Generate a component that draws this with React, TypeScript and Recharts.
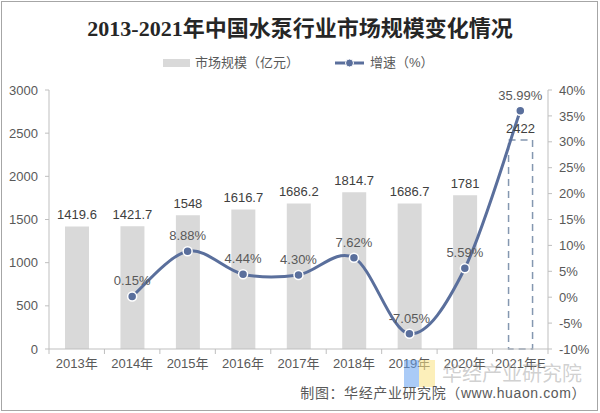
import React from 'react';
import { ComposedChart, Bar, Line, XAxis, YAxis, Cell, LabelList } from 'recharts';

const years = ['2013年', '2014年', '2015年', '2016年', '2017年', '2018年', '2019年', '2020年', '2021年E'];
const marketSize = [1419.6, 1421.7, 1548, 1616.7, 1686.2, 1814.7, 1686.7, 1781, 2422];
const growth: (number | null)[] = [null, 0.15, 8.88, 4.44, 4.3, 7.62, -7.05, 5.59, 35.99];
const leftTicks = [0, 500, 1000, 1500, 2000, 2500, 3000];
const rightTicks = [-10, -5, 0, 5, 10, 15, 20, 25, 30, 35, 40];

const data = years.map((y, i) => ({ year: y, size: marketSize[i], growth: growth[i] }));

const LINE_COLOR = '#5A6F9C';
const AXIS_COLOR = '#BFBFBF';
const TEXT_COLOR = '#595959';
const FONT = '"Liberation Sans", Arial, "Noto Sans CJK SC", sans-serif';

// Excel-like smooth curve (Catmull-Rom as cubic Bezier)
function smoothCurve(context: any) {
  let pts: [number, number][] = [];
  return {
    areaStart() {},
    areaEnd() {},
    lineStart() {
      pts = [];
    },
    lineEnd() {
      const n = pts.length;
      if (n === 0) return;
      context.moveTo(pts[0][0], pts[0][1]);
      if (n === 1) {
        context.lineTo(pts[0][0], pts[0][1]);
        return;
      }
      const t = 1 / 6;
      for (let i = 0; i < n - 1; i++) {
        const p0 = pts[i - 1] || pts[i];
        const p1 = pts[i];
        const p2 = pts[i + 1];
        const p3 = pts[i + 2] || p2;
        context.bezierCurveTo(
          p1[0] + (p2[0] - p0[0]) * t,
          p1[1] + (p2[1] - p0[1]) * t,
          p2[0] - (p3[0] - p1[0]) * t,
          p2[1] - (p3[1] - p1[1]) * t,
          p2[0],
          p2[1]
        );
      }
    },
    point(x: number, y: number) {
      pts.push([+x, +y]);
    },
  };
}

const XTick = (props: any) => {
  const { x, y, payload, index, width, visibleTicksCount } = props;
  const half = payload && payload.offset ? payload.offset : width / (visibleTicksCount || 9) / 2;
  return (
    <g>
      <line x1={x - half} x2={x - half} y1={y} y2={y + 5} stroke={AXIS_COLOR} strokeWidth={1} />
      {index === (visibleTicksCount || 9) - 1 && (
        <line x1={x + half} x2={x + half} y1={y} y2={y + 5} stroke={AXIS_COLOR} strokeWidth={1} />
      )}
      <text x={x} y={y + 10} dy="0.71em" textAnchor="middle" fill={TEXT_COLOR} fontSize={13} fontFamily={FONT}>
        {payload.value}
      </text>
    </g>
  );
};

const growthFormatter = (v: any) => (v === null || v === undefined ? '' : `${Number(v).toFixed(2)}%`);

export default function App() {
  return (
    <div
      style={{
        position: 'absolute',
        left: 0,
        top: 0,
        width: 600,
        height: 413,
        background: '#fff',
        fontFamily: FONT,
        overflow: 'hidden',
      }}
    >
      <div
        style={{
          position: 'absolute',
          left: 1,
          top: 1,
          width: 597,
          height: 410,
          border: '1.5px solid #A6A6A6',
          boxSizing: 'border-box',
        }}
      />
      <div
        style={{
          position: 'absolute',
          left: 0,
          top: 14,
          width: 600,
          textAlign: 'center',
          fontSize: 22,
          lineHeight: '30px',
          color: '#262626',
          fontFamily: '"Liberation Serif", "Noto Sans CJK SC", serif',
          fontWeight: 600,
        }}
      >
        2013-2021年中国水泵行业市场规模变化情况
      </div>
      {/* Legend */}
      <div style={{ position: 'absolute', left: 163, top: 63, height: 0 }}>
        <div style={{ position: 'absolute', left: 0, top: -4, width: 27, height: 8, background: '#D9D9D9' }} />
        <div
          style={{
            position: 'absolute',
            left: 32,
            top: -10,
            fontSize: 13,
            lineHeight: '20px',
            color: TEXT_COLOR,
            whiteSpace: 'nowrap',
          }}
        >
          市场规模（亿元）
        </div>
        <svg style={{ position: 'absolute', left: 172, top: -6 }} width={30} height={12}>
          <line x1={0} x2={29} y1={6} y2={6} stroke={LINE_COLOR} strokeWidth={3} />
          <circle cx={14.5} cy={6} r={4} fill={LINE_COLOR} stroke="#fff" strokeWidth={1} />
        </svg>
        <div
          style={{
            position: 'absolute',
            left: 207,
            top: -10,
            fontSize: 13,
            lineHeight: '20px',
            color: TEXT_COLOR,
            whiteSpace: 'nowrap',
          }}
        >
          增速（%）
        </div>
      </div>
      <div style={{ position: 'absolute', left: 0, top: 0 }}>
        <ComposedChart width={600} height={413} data={data} margin={{ top: 90, right: 0, left: 9, bottom: 34 }}>
          <YAxis
            yAxisId="left"
            orientation="left"
            width={40}
            domain={[0, 3000]}
            ticks={leftTicks}
            interval={0}
            tickSize={4}
            tickMargin={7}
            axisLine={{ stroke: AXIS_COLOR }}
            tickLine={{ stroke: AXIS_COLOR }}
            tick={{ fill: TEXT_COLOR, fontSize: 13, fontFamily: FONT }}
          />
          <YAxis
            yAxisId="right"
            orientation="right"
            width={52}
            domain={[-10, 40]}
            ticks={rightTicks}
            interval={0}
            tickSize={4}
            tickMargin={7}
            tickFormatter={(v: number) => `${v}%`}
            axisLine={{ stroke: AXIS_COLOR }}
            tickLine={{ stroke: AXIS_COLOR }}
            tick={{ fill: TEXT_COLOR, fontSize: 13, fontFamily: FONT }}
          />
          <Bar yAxisId="left" dataKey="size" barSize={24} fill="#D9D9D9" isAnimationActive={false}>
            {data.map((d, i) =>
              i === data.length - 1 ? (
                <Cell key={i} fill="#FFFFFF" stroke="#8497B0" strokeWidth={1.5} strokeDasharray="7 5" />
              ) : (
                <Cell key={i} fill="#D9D9D9" />
              )
            )}
            <LabelList dataKey="size" position="top" offset={7} fill="#404040" fontSize={13} fontFamily={FONT} />
          </Bar>
          <XAxis
            dataKey="year"
            interval={0}
            tickLine={false}
            tickSize={0}
            tickMargin={0}
            height={30}
            axisLine={{ stroke: AXIS_COLOR }}
            tick={<XTick />}
          />
          <Line
            yAxisId="right"
            dataKey="growth"
            type={smoothCurve as any}
            stroke={LINE_COLOR}
            strokeWidth={3}
            dot={{ r: 4.5, fill: LINE_COLOR, stroke: '#FFFFFF', strokeWidth: 1.5 }}
            activeDot={false}
            isAnimationActive={false}
          >
            <LabelList
              dataKey="growth"
              position="top"
              offset={11}
              fill={TEXT_COLOR}
              fontSize={13}
              fontFamily={FONT}
              formatter={growthFormatter}
            />
          </Line>
        </ComposedChart>
      </div>
      {/* Watermark */}
      <div
        style={{
          position: 'absolute',
          left: 404,
          top: 360,
          width: 15,
          height: 27,
          background: 'rgba(100,160,240,0.55)',
        }}
      />
      <div
        style={{
          position: 'absolute',
          left: 419,
          top: 360,
          width: 16,
          height: 27,
          background: 'rgba(250,225,130,0.55)',
        }}
      />
      <div
        style={{
          position: 'absolute',
          left: 442,
          top: 360,
          fontSize: 20,
          lineHeight: '26px',
          color: 'rgba(150,150,150,0.45)',
          fontFamily: '"Noto Sans CJK SC", sans-serif',
          whiteSpace: 'nowrap',
        }}
      >
        华经产业研究院
      </div>
      {/* Footer */}
      <div
        style={{
          position: 'absolute',
          right: 14,
          top: 384,
          fontSize: 14,
          lineHeight: '18px',
          color: TEXT_COLOR,
          whiteSpace: 'nowrap',
          letterSpacing: 0.6,
        }}
      >
        制图：华经产业研究院（www.huaon.com）
      </div>
    </div>
  );
}
